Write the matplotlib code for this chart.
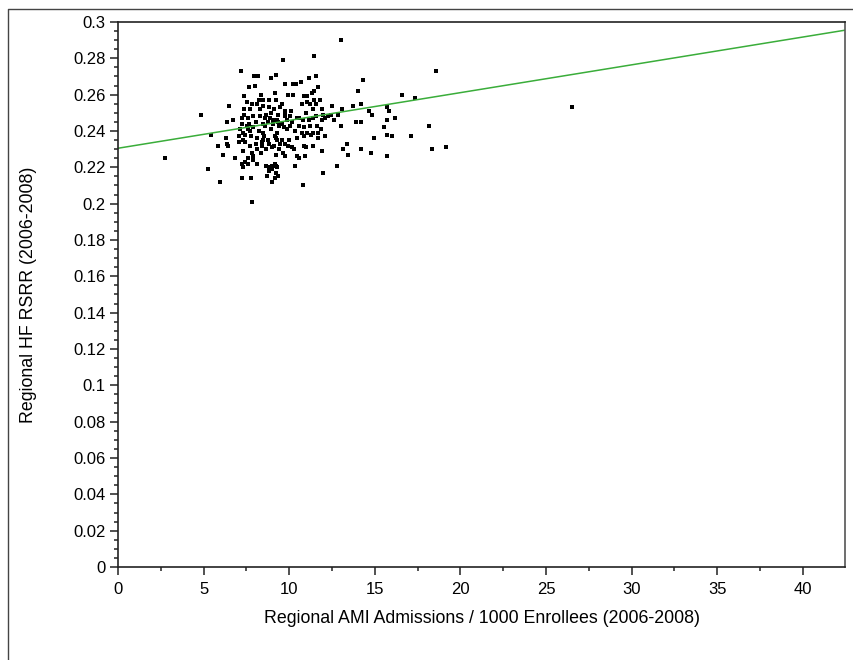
import matplotlib
matplotlib.use('Agg')
import matplotlib.pyplot as plt
from matplotlib.ticker import MultipleLocator, FuncFormatter
from matplotlib.lines import Line2D

# regional AMI admissions per 1000 enrollees vs HF RSRR
# main cluster
ami_main = [
    13.02, 11.47, 9.66, 7.16, 7.94, 8.20, 9.23, 8.95, 9.75, 10.24,
    10.38, 10.71, 11.13, 11.54, 7.67, 8.02, 11.66, 11.47, 11.31, 8.35,
    9.15, 9.93, 10.24, 7.34, 8.47, 8.21, 7.81, 8.80, 9.23, 10.86,
    11.02, 11.43, 11.82, 6.46, 7.51, 8.10, 8.49, 8.84, 9.13, 9.48,
    9.75, 10.10, 10.76, 11.21, 11.56, 11.39, 11.89, 12.52, 4.83, 7.38,
    7.73, 8.29, 8.62, 8.93, 9.36, 9.73, 10.04, 10.43, 10.98, 11.54,
    11.99, 12.44, 12.87, 7.36, 7.57, 7.90, 8.29, 8.60, 8.88, 9.27,
    9.56, 9.89, 10.18, 10.57, 11.13, 11.41, 12.11, 12.61, 6.38, 6.74,
    7.22, 7.22, 7.65, 8.06, 8.45, 8.78, 9.07, 9.38, 9.69, 10.04,
    10.57, 10.86, 11.21, 11.60, 11.87, 13.02, 5.43, 7.12, 7.57, 7.88,
    8.21, 8.49, 8.95, 9.27, 9.85, 10.34, 10.73, 11.02, 11.41, 11.70,
    12.09, 6.31, 7.09, 7.42, 7.77, 8.10, 8.45, 8.78, 9.21, 9.56,
    9.99, 10.43, 10.86, 11.25, 5.82, 6.40, 7.09, 7.42, 7.71, 8.06,
    8.39, 8.84, 9.11, 9.46, 9.75, 9.95, 10.28, 10.86, 11.37, 11.91,
    13.16, 13.35, 13.41, 6.11, 6.83, 7.32, 7.81, 8.10, 8.35, 8.64,
    8.97, 9.23, 9.62, 9.75, 10.43, 10.57, 10.92, 2.76, 7.24, 7.57,
    7.90, 8.10, 8.64, 8.97, 9.17, 9.27, 10.36, 5.26, 8.99, 8.84,
    9.23, 9.34, 8.72, 11.99, 12.77, 7.24, 7.75, 5.96, 8.97, 10.78,
    7.84,
]
rsrr_main = [
    0.290, 0.281, 0.279, 0.273, 0.270, 0.270, 0.271, 0.269, 0.266, 0.266,
    0.266, 0.267, 0.269, 0.270, 0.264, 0.265, 0.264, 0.262, 0.261, 0.260,
    0.261, 0.260, 0.260, 0.259, 0.257, 0.257, 0.255, 0.257, 0.257, 0.259,
    0.256, 0.257, 0.257, 0.254, 0.256, 0.255, 0.254, 0.253, 0.252, 0.253,
    0.251, 0.251, 0.255, 0.255, 0.255, 0.252, 0.252, 0.254, 0.249, 0.252,
    0.252, 0.252, 0.249, 0.250, 0.249, 0.248, 0.248, 0.247, 0.250, 0.248,
    0.249, 0.249, 0.249, 0.249, 0.247, 0.248, 0.248, 0.247, 0.247, 0.246,
    0.244, 0.246, 0.245, 0.247, 0.246, 0.247, 0.247, 0.246, 0.245, 0.246,
    0.247, 0.244, 0.244, 0.245, 0.244, 0.245, 0.244, 0.243, 0.242, 0.243,
    0.243, 0.242, 0.243, 0.243, 0.241, 0.243, 0.238, 0.241, 0.241, 0.242,
    0.240, 0.239, 0.241, 0.239, 0.241, 0.240, 0.239, 0.239, 0.239, 0.239,
    0.237, 0.236, 0.237, 0.238, 0.237, 0.236, 0.235, 0.235, 0.236, 0.235,
    0.235, 0.236, 0.237, 0.238, 0.232, 0.232, 0.234, 0.234, 0.232, 0.233,
    0.232, 0.233, 0.232, 0.233, 0.233, 0.232, 0.230, 0.232, 0.232, 0.229,
    0.230, 0.233, 0.227, 0.227, 0.225, 0.229, 0.228, 0.230, 0.228, 0.230,
    0.231, 0.227, 0.228, 0.226, 0.226, 0.225, 0.226, 0.225, 0.222, 0.225,
    0.226, 0.222, 0.221, 0.221, 0.222, 0.220, 0.221, 0.219, 0.219, 0.218,
    0.217, 0.215, 0.215, 0.217, 0.221, 0.214, 0.214, 0.212, 0.212, 0.210,
    0.201,
]

# extra points in the dense core
ami_core = [
    9.17, 9.30, 9.42, 10.14, 10.98, 11.70, 9.23, 9.17, 6.38, 7.32,
    8.39, 8.53, 7.90, 7.42, 7.32, 7.61, 8.84, 7.51, 7.32, 7.71,
    8.58, 9.56, 9.75, 9.07, 9.36, 10.82, 11.89, 12.28, 11.02, 13.06,
]
rsrr_core = [
    0.237, 0.235, 0.230, 0.231, 0.231, 0.236, 0.221, 0.214, 0.233, 0.235,
    0.234, 0.237, 0.224, 0.223, 0.220, 0.222, 0.220, 0.243, 0.239, 0.240,
    0.243, 0.255, 0.250, 0.246, 0.245, 0.246, 0.246, 0.248, 0.259, 0.252,
]

# right hand tail
ami_tail = [
    14.33, 14.00, 13.72, 14.17, 13.90, 14.17, 14.68, 14.85, 14.93, 15.73,
    15.81, 15.73, 15.55, 15.73, 15.98, 16.16, 16.57, 17.36, 18.57, 18.14,
    17.09, 18.32, 19.17, 15.73, 14.77, 14.17, 26.51,
]
rsrr_tail = [
    0.268, 0.262, 0.254, 0.255, 0.245, 0.245, 0.251, 0.249, 0.236, 0.253,
    0.251, 0.246, 0.242, 0.238, 0.237, 0.247, 0.260, 0.258, 0.273, 0.243,
    0.237, 0.230, 0.231, 0.226, 0.228, 0.230, 0.253,
]

ami_rate = ami_main + ami_core + ami_tail
hf_rsrr = rsrr_main + rsrr_core + rsrr_tail

# linear fit as drawn on the chart
fit_intercept = 0.2305
fit_slope = 0.00153

x_ticks = [0, 5, 10, 15, 20, 25, 30, 35, 40]
y_ticks = [0, 0.02, 0.04, 0.06, 0.08, 0.1, 0.12, 0.14, 0.16, 0.18,
           0.2, 0.22, 0.24, 0.26, 0.28, 0.3]

plt.rcParams['font.family'] = ['Liberation Sans', 'DejaVu Sans']

fig = plt.figure(figsize=(8.54, 6.6), dpi=100)
ax = fig.add_axes([0.1382, 0.1409, 0.8513, 0.8258])

ax.plot(ami_rate, hf_rsrr, ls='none', marker='s', ms=2.6, mew=0, color='black')
ax.axline((0, fit_intercept), slope=fit_slope, color='#3aad3a', lw=1.1)

ax.set_xlim(0, 42.47)
ax.set_ylim(0, 0.3)
ax.set_xticks(x_ticks)
ax.set_yticks(y_ticks)
ax.xaxis.set_minor_locator(MultipleLocator(2.5))
ax.yaxis.set_minor_locator(MultipleLocator(0.005))
ax.yaxis.set_major_formatter(FuncFormatter(lambda v, p: '%g' % round(v, 3)))
ax.xaxis.set_major_formatter(FuncFormatter(lambda v, p: '%g' % v))

ax.tick_params(which='major', length=5.5, width=1.1, direction='out', labelsize=12, color='#222222')
ax.tick_params(axis='x', which='major', pad=5)
ax.tick_params(axis='y', which='major', pad=3.5)
ax.tick_params(which='minor', length=3, width=1.1, direction='out', color='#222222')

for side in ['left', 'bottom', 'top']:
    ax.spines[side].set_linewidth(1.2)
    ax.spines[side].set_color('#222222')
ax.spines['right'].set_linewidth(1.2)
ax.spines['right'].set_color('#555555')

ax.set_xlabel('Regional AMI Admissions / 1000 Enrollees (2006-2008)', fontsize=12.8)
ax.set_ylabel('Regional HF RSRR (2006-2008)', fontsize=12.8)
ax.xaxis.set_label_coords(0.5, -0.078)
ax.yaxis.set_label_coords(-0.111, 0.5)

# outer frame of the exported graph (top and left edges only)
fig.add_artist(Line2D([8 / 854, 8 / 854, 1.0], [0.0, 651 / 660, 651 / 660],
                      transform=fig.transFigure, color='#444444', lw=1.0))

fig.savefig('out.png', dpi=100)
